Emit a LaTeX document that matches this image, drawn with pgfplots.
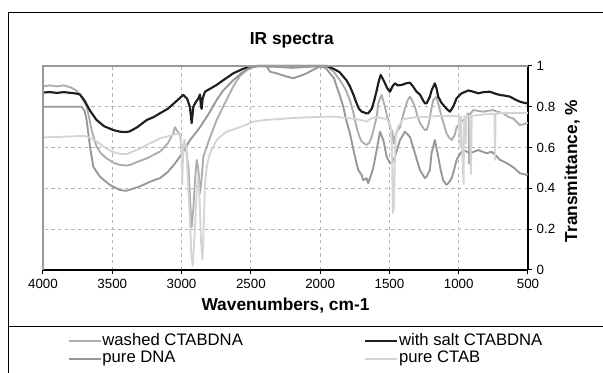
\documentclass[border=0pt]{standalone}
\usepackage{fontspec}
\setmainfont{Liberation Sans}
\usepackage{pgfplots}
\pgfplotsset{compat=1.18}
\definecolor{washed}{HTML}{ADADAD}
\definecolor{salt}{HTML}{1E1E1E}
\definecolor{dna}{HTML}{979797}
\definecolor{ctab}{HTML}{D4D4D4}
\definecolor{gridc}{HTML}{B4B4B4}
\begin{document}
\begin{tikzpicture}
\useasboundingbox (0,0) rectangle (452.25pt,279.75pt);
\draw[black, line width=0.75pt] (6pt,-5pt) -- (6pt,270pt) -- (460pt,270pt);
\draw[black, line width=0.75pt] (6pt,34.5pt) -- (460pt,34.5pt);
\begin{axis}[
  at={(32.25pt,77.25pt)}, anchor=south west,
  scale only axis, width=363.75pt, height=153pt,
  x dir=reverse,
  xmin=500, xmax=4000, ymin=0, ymax=1,
  axis x line*=bottom, axis y line*=right,
  axis line style={-, black, line width=0.8pt},
  xtick={500,1000,1500,2000,2500,3000,3500,4000},
  xticklabels={500,1000,1500,2000,2500,3000,3500,4000},
  ytick={0,0.2,0.4,0.6,0.8,1},
  yticklabels={0,0.2,0.4,0.6,0.8,1},
  tick align=outside, major tick length=3pt,
  tick style={black, line width=0.75pt},
  ticklabel style={font=\fontsize{10}{12}\selectfont},
  grid=major, grid style={gridc, line width=0.6pt, dash pattern=on 2.5pt off 2.5pt},
  clip=false,
  title={IR spectra},
  every axis title/.style={at={(axis description cs:0.513,1.127)}, anchor=center, font=\fontsize{13}{15}\selectfont\bfseries},
  xlabel={Wavenumbers, cm-1},
  every axis x label/.style={at={(axis description cs:0.5,-0.172)}, anchor=center, font=\fontsize{13}{15}\selectfont\bfseries},
  ylabel={Transmittance, \%},
  every axis y label/.style={at={(axis description cs:1.091,0.485)}, anchor=center, rotate=90, font=\fontsize{13}{15}\selectfont\bfseries},
  legend columns=2,
  legend image code/.code={\draw[#1, line width=1.5pt] (0pt,0pt) -- (24pt,0pt);},
  legend style={at={(axis description cs:0.0505,-0.306)}, anchor=north west, draw=none, fill=none, inner sep=0pt,
    font=\fontsize{12.5}{14}\selectfont, nodes={inner sep=0.5pt, text height=9pt, text depth=3pt}, row sep=0pt, column sep=0pt},
  legend cell align=left,
  every axis plot/.append style={line width=1.4pt, line join=round},
  after end axis/.code={\draw[gridc!85!black, line width=0.8pt] (rel axis cs:0,0) -- (rel axis cs:0,1) -- (rel axis cs:1,1);},
]
% washed CTABDNA
\addplot[color=washed] coordinates {
(4000,0.90)(3950,0.905)(3900,0.90)(3850,0.905)(3800,0.895)(3760,0.88)(3733,0.86)(3700,0.82)(3685,0.80)(3665,0.74)
(3649,0.686)(3630,0.64)(3613,0.605)(3580,0.57)(3540,0.547)(3490,0.525)(3444,0.515)(3400,0.512)(3372,0.515)(3320,0.53)
(3252,0.547)(3200,0.565)(3156,0.58)(3100,0.62)(3060,0.67)(3048,0.70)(3030,0.68)(3010,0.66)(2995,0.55)(2985,0.62)
(2965,0.58)(2950,0.50)(2935,0.30)(2927,0.21)(2915,0.30)(2905,0.42)(2891,0.54)(2880,0.50)(2867,0.376)(2855,0.45)
(2843,0.555)(2800,0.64)(2747,0.735)(2700,0.80)(2627,0.90)(2580,0.95)(2530,0.98)(2480,0.995)(2450,1.0)(2300,0.995)
(2200,0.99)(2100,0.995)(2000,1.0)(1953,1.0)(1900,0.97)(1857,0.93)(1820,0.89)(1785,0.833)(1760,0.77)(1737,0.70)
(1715,0.65)(1700,0.629)(1665,0.613)(1645,0.625)(1628,0.653)(1610,0.70)(1592,0.75)(1581,0.817)(1568,0.84)(1556,0.858)
(1545,0.83)(1532,0.80)(1515,0.75)(1496,0.70)(1480,0.68)(1470,0.62)(1460,0.653)(1445,0.68)(1424,0.70)(1405,0.75)
(1388,0.79)(1370,0.83)(1352,0.85)(1335,0.83)(1316,0.80)(1300,0.76)(1280,0.72)(1260,0.70)(1244,0.686)(1232,0.686)
(1215,0.72)(1200,0.78)(1184,0.833)(1160,0.85)(1136,0.784)(1110,0.72)(1088,0.67)(1070,0.65)(1051,0.637)(1030,0.66)
(1015,0.70)(990,0.72)(967,0.735)(945,0.75)(931,0.768)(928,0.76)(925,0.52)(922,0.76)(895,0.784)(860,0.78)
(823,0.776)(790,0.78)(751,0.784)(720,0.775)(679,0.768)(640,0.75)(607,0.743)(580,0.725)(558,0.71)(530,0.715)(510,0.72)(500,0.72)
};
\addlegendentry{\makebox[196pt][l]{washed CTABDNA}}
% with salt CTABDNA
\addplot[color=salt, line width=1.6pt] coordinates {
(4000,0.87)(3950,0.872)(3900,0.868)(3850,0.872)(3800,0.868)(3760,0.865)(3733,0.86)(3700,0.83)(3660,0.78)(3613,0.735)
(3560,0.705)(3493,0.686)(3445,0.678)(3400,0.676)(3372,0.68)(3320,0.70)(3252,0.735)(3200,0.75)(3156,0.768)(3100,0.79)
(3050,0.82)(2988,0.858)(2960,0.84)(2940,0.80)(2927,0.72)(2915,0.80)(2903,0.817)(2880,0.84)(2867,0.86)(2860,0.80)
(2855,0.79)(2848,0.84)(2831,0.874)(2790,0.89)(2747,0.907)(2700,0.93)(2627,0.964)(2560,0.985)(2507,0.997)(2450,1.0)
(2000,1.0)(1953,1.0)(1900,0.985)(1860,0.97)(1833,0.948)(1810,0.93)(1785,0.90)(1760,0.86)(1737,0.817)(1720,0.79)
(1700,0.776)(1665,0.768)(1653,0.768)(1628,0.79)(1610,0.83)(1592,0.88)(1575,0.93)(1563,0.956)(1550,0.94)(1532,0.915)
(1515,0.89)(1496,0.874)(1478,0.90)(1460,0.915)(1440,0.905)(1412,0.907)(1380,0.915)(1352,0.918)(1330,0.90)(1304,0.874)
(1280,0.86)(1256,0.83)(1244,0.817)(1232,0.817)(1208,0.85)(1196,0.88)(1172,0.915)(1160,0.89)(1148,0.85)(1125,0.82)
(1100,0.80)(1080,0.785)(1063,0.776)(1040,0.80)(1015,0.842)(979,0.866)(931,0.88)(900,0.875)(859,0.866)(820,0.872)
(775,0.874)(740,0.865)(703,0.858)(670,0.855)(631,0.85)(590,0.835)(558,0.825)(530,0.82)(510,0.817)(500,0.82)
};
\addlegendentry{with salt CTABDNA}
% pure DNA
\addplot[color=dna] coordinates {
(4000,0.80)(3900,0.80)(3800,0.80)(3721,0.80)(3700,0.78)(3685,0.735)(3661,0.605)(3637,0.506)(3589,0.457)(3517,0.417)
(3444,0.392)(3400,0.388)(3372,0.394)(3300,0.41)(3252,0.425)(3200,0.44)(3156,0.45)(3100,0.48)(3050,0.52)(3012,0.555)
(2980,0.59)(2939,0.637)(2900,0.67)(2867,0.70)(2800,0.77)(2747,0.833)(2700,0.88)(2627,0.93)(2560,0.97)(2507,0.99)
(2450,1.0)(2386,1.0)(2362,0.972)(2314,0.964)(2250,0.95)(2194,0.94)(2150,0.95)(2097,0.964)(2040,0.985)(2001,0.997)
(1960,0.99)(1929,0.964)(1900,0.94)(1881,0.90)(1860,0.86)(1833,0.80)(1810,0.73)(1785,0.67)(1760,0.59)(1737,0.523)
(1725,0.49)(1700,0.466)(1689,0.44)(1665,0.45)(1653,0.425)(1628,0.474)(1617,0.50)(1592,0.588)(1568,0.678)(1544,0.637)
(1520,0.555)(1496,0.523)(1480,0.53)(1460,0.555)(1424,0.637)(1388,0.678)(1352,0.653)(1316,0.572)(1280,0.49)(1244,0.45)
(1232,0.457)(1208,0.49)(1196,0.572)(1172,0.637)(1148,0.555)(1130,0.49)(1112,0.44)(1088,0.417)(1070,0.43)(1051,0.45)
(1030,0.50)(1015,0.54)(990,0.57)(967,0.588)(940,0.58)(919,0.572)(890,0.58)(859,0.588)(830,0.58)(799,0.572)
(763,0.58)(730,0.56)(703,0.54)(670,0.53)(631,0.515)(600,0.50)(558,0.474)(530,0.47)(510,0.466)(500,0.47)
};
\addlegendentry{pure DNA}
% pure CTAB
\addplot[color=ctab] coordinates {
(4000,0.65)(3900,0.652)(3800,0.655)(3700,0.657)(3650,0.645)(3600,0.625)(3565,0.605)(3500,0.58)(3444,0.569)(3400,0.568)
(3372,0.575)(3300,0.595)(3252,0.613)(3200,0.63)(3156,0.645)(3100,0.655)(3050,0.665)(3010,0.67)(3000,0.60)(2995,0.42)
(2990,0.55)(2980,0.64)(2965,0.60)(2955,0.45)(2940,0.25)(2930,0.08)(2920,0.02)(2912,0.10)(2900,0.25)(2890,0.40)
(2880,0.45)(2870,0.35)(2860,0.15)(2850,0.05)(2843,0.15)(2831,0.425)(2815,0.52)(2795,0.572)(2747,0.637)(2700,0.665)
(2675,0.678)(2579,0.70)(2483,0.727)(2400,0.735)(2300,0.74)(2200,0.745)(2100,0.748)(2025,0.75)(1900,0.752)(1800,0.745)
(1700,0.735)(1665,0.727)(1640,0.74)(1600,0.75)(1560,0.745)(1520,0.74)(1500,0.72)(1490,0.70)(1482,0.60)(1475,0.28)
(1468,0.30)(1462,0.50)(1455,0.65)(1440,0.70)(1420,0.72)(1400,0.74)(1350,0.745)(1300,0.75)(1250,0.75)(1200,0.752)
(1150,0.755)(1100,0.755)(1050,0.755)(1000,0.755)(990,0.60)(985,0.755)(965,0.42)(960,0.755)(950,0.62)(945,0.755)
(918,0.755)(912,0.47)(906,0.755)(850,0.76)(780,0.765)(742,0.765)(738,0.54)(734,0.765)(700,0.77)(600,0.77)(500,0.77)
};
\addlegendentry{pure CTAB}
\end{axis}
\end{tikzpicture}
\end{document}
